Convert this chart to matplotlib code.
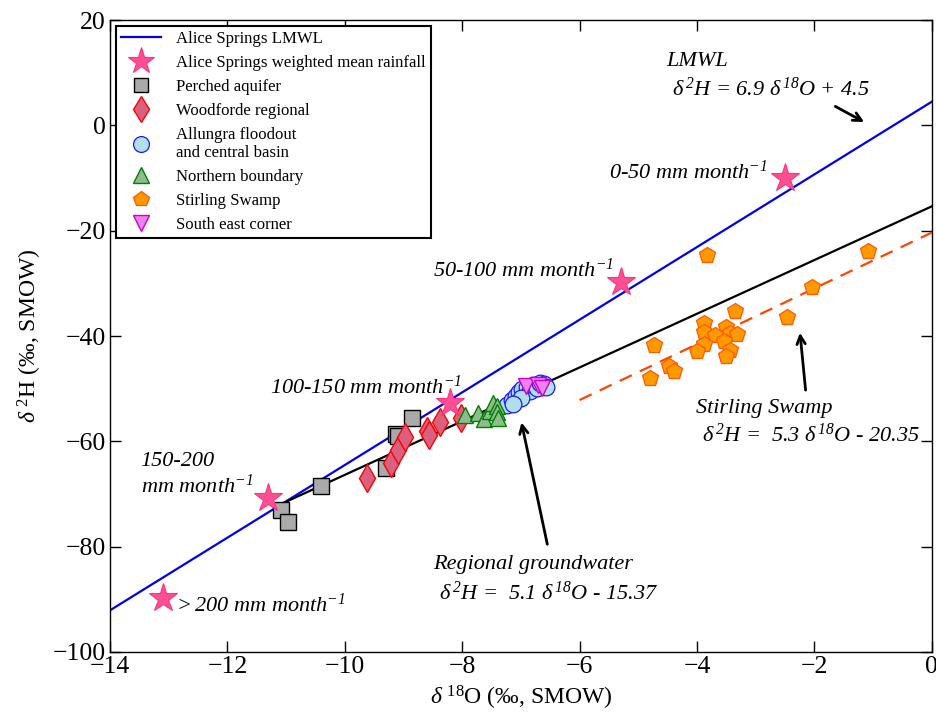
import matplotlib
matplotlib.use("Agg")
import matplotlib.pyplot as plt
import numpy as np

plt.rcParams['font.family'] = ['Liberation Serif', 'DejaVu Serif']
plt.rcParams['mathtext.fontset'] = 'custom'
plt.rcParams['mathtext.rm'] = 'Liberation Serif'
plt.rcParams['mathtext.it'] = 'Liberation Serif:italic'
plt.rcParams['mathtext.bf'] = 'Liberation Serif:bold'
plt.rcParams['mathtext.default'] = 'regular'

# ---- data ----
rain_x = [-2.5, -5.3, -8.2, -11.3, -13.1]
rain_y = [-10.0, -29.8, -52.8, -70.8, -89.8]

perched_x = [-8.86, -9.13, -9.09, -9.30, -10.41, -11.08, -10.96]
perched_y = [-55.6, -58.7, -59.0, -65.1, -68.4, -73.1, -75.4]

wood_x = [-9.62, -9.22, -9.10, -8.98, -8.60, -8.57, -8.38, -8.02]
wood_y = [-67.0, -64.1, -61.6, -59.2, -58.0, -58.8, -56.3, -55.6]

allungra_x = [-7.24, -7.15, -7.08, -7.03, -6.98, -6.90, -6.85, -6.80, -6.73, -6.68, -6.61, -6.57, -7.00, -7.14]
allungra_y = [-53.1, -52.1, -51.4, -50.6, -50.1, -49.7, -50.4, -49.3, -49.9, -48.9, -49.1, -49.7, -51.8, -52.9]

north_x = [-7.95, -7.73, -7.63, -7.53, -7.48, -7.41, -7.41, -7.39]
north_y = [-55.0, -54.6, -55.75, -54.2, -52.7, -53.3, -54.4, -55.6]

stirling_x = [-3.83, -1.08, -2.04, -2.47, -3.35, -3.88, -3.88, -3.51, -3.70, -3.43,
              -3.31, -3.54, -3.88, -4.00, -3.44, -3.50, -4.73, -4.47, -4.39, -4.80]
stirling_y = [-24.6, -23.8, -30.6, -36.3, -35.2, -37.6, -39.2, -38.3, -39.9, -39.5,
              -39.7, -40.9, -41.5, -42.8, -42.65, -43.8, -41.7, -45.6, -46.6, -47.9]

se_x = [-6.91, -6.71, -6.64]
se_y = [-49.5, -49.3, -49.9]

# regression lines: slope, intercept, x range
lmwl = (6.9, 4.5, -14.0, 0.0)
regional = (5.1, -15.37, -11.08, 0.0)
stirling_line = (5.3, -20.35, -6.0, 0.0)

xticks = [-14, -12, -10, -8, -6, -4, -2, 0]
yticks = [-100, -80, -60, -40, -20, 0, 20]

fig = plt.figure(figsize=(9.36, 7.18), dpi=100)
ax = fig.add_axes([0.1175, 0.092, 0.878, 0.880])

def line(p):
    s, b, x0, x1 = p
    xs = np.array([x0, x1])
    return xs, s * xs + b

xs, ys = line(lmwl)
ax.plot(xs, ys, color='#0000ee', lw=1.6, label='Alice Springs LMWL', zorder=2)
xs, ys = line(regional)
ax.plot(xs, ys, color='black', lw=1.6, zorder=2)
xs, ys = line(stirling_line)
ax.plot(xs, ys, color='#ff4500', lw=1.6, ls=(0, (6, 4)), zorder=2)

ax.plot(rain_x, rain_y, ls='none', marker='*', ms=21, mfc='#ff4f93', mec='#ff3080',
        mew=0.8, label='Alice Springs weighted mean rainfall', zorder=4)
ax.plot(perched_x, perched_y, ls='none', marker='s', ms=11, mfc='#aaaaaa', mec='black',
        mew=1.0, label='Perched aquifer', zorder=3)
ax.plot(wood_x, wood_y, ls='none', marker='d', ms=14, mfc='#d9607f', mec='red',
        mew=1.0, label='Woodforde regional', zorder=3)
ax.plot(allungra_x, allungra_y, ls='none', marker='o', ms=12, mfc='#b0e0e6', mec='#1a1aff',
        mew=0.9, label='Allungra floodout\nand central basin', zorder=3)
ax.plot(north_x, north_y, ls='none', marker='^', ms=12, mfc='#8fbc8f', mec='green',
        mew=1.0, label='Northern boundary', zorder=3)
ax.plot(stirling_x, stirling_y, ls='none', marker='p', ms=12, mfc='#ff9900', mec='#ff5a00',
        mew=0.9, label='Stirling Swamp', zorder=3)
ax.plot(se_x, se_y, ls='none', marker='v', ms=12, mfc='#ee82ee', mec='#cc00cc',
        mew=1.0, label='South east corner', zorder=4)

ax.set_xlim(-14, 0)
ax.set_ylim(-100, 20)
ax.set_xticks(xticks)
ax.set_yticks(yticks)
ax.tick_params(direction='in', length=8, width=1, top=True, right=True,
               labelsize=18.5, pad=3)
for sp in ax.spines.values():
    sp.set_linewidth(1.0)

ax.set_xlabel(r'$\mathit{\delta}\ ^{18}$O (‰, SMOW)', fontsize=17, labelpad=4)
ax.set_ylabel(r'$\mathit{\delta}\ ^{2}$H (‰, SMOW)', fontsize=17, labelpad=6)

leg = ax.legend(loc='upper left', fontsize=12.1, frameon=True, fancybox=False,
                edgecolor='black', framealpha=1, borderpad=0.3, labelspacing=0.47,
                handlelength=2.4, handletextpad=0.9, borderaxespad=0.35, numpoints=1,
                markerscale=0.95)
leg.get_frame().set_linewidth(1.5)

fs = 16
tkw = dict(fontsize=fs, style='italic', ha='left', va='baseline')
ax.text(-4.52, 11.27, 'LMWL', **tkw)
ax.text(-4.42, 5.63, r'δ$\,^{2}$H = 6.9 δ$\,^{18}$O + 4.5', **tkw)
ax.text(-5.50, -10.06, r'0-50 mm month$^{-1}$', **tkw)
ax.text(-8.49, -28.7, r'50-100 mm month$^{-1}$', **tkw)
ax.text(-11.27, -50.9, r'100-150 mm month$^{-1}$', **tkw)
ax.text(-13.48, -64.7, '150-200', **tkw)
ax.text(-13.48, -69.75, r'mm month$^{-1}$', **tkw)
ax.text(-12.92, -92.3, r'$>$200 mm month$^{-1}$', **tkw)
ax.text(-8.49, -84.2, 'Regional groundwater', **tkw)
ax.text(-8.39, -90.1, r'δ$\,^{2}$H =  5.1 δ$\,^{18}$O - 15.37', **tkw)
ax.text(-4.01, -54.7, 'Stirling Swamp', **tkw)
ax.text(-3.92, -60.06, r'δ$\,^{2}$H =  5.3 δ$\,^{18}$O - 20.35', **tkw)

akw = dict(arrowstyle='->,head_length=0.6,head_width=0.3', color='black', lw=2)
ax.annotate('', xy=(-1.11, 0.39), xytext=(-1.685, 3.86), arrowprops=akw)
ax.annotate('', xy=(-7.0, -55.9), xytext=(-6.54, -80.06), arrowprops=akw)
ax.annotate('', xy=(-2.25, -38.86), xytext=(-2.145, -50.8), arrowprops=akw)

fig.savefig('out.png', dpi=100)
